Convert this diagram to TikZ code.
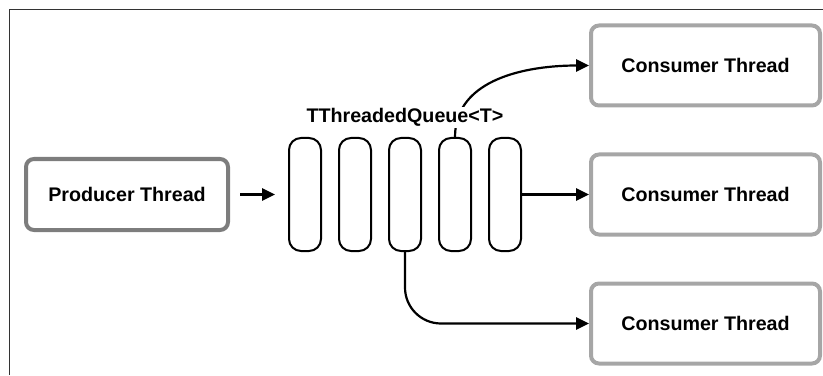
\documentclass[tikz,border=0pt]{standalone}
\usepackage{fontspec}
\setmainfont{Liberation Sans}
\definecolor{ProdGray}{RGB}{125, 125, 125}
\definecolor{ConsGray}{RGB}{166, 166, 166}
\usetikzlibrary{arrows.meta, positioning}

\begin{document}
\begin{tikzpicture}[>={Triangle[length=0.32cm, width=0.3cm]}, node distance=0.4cm,
    every node/.style={font=\fontsize{14}{16}\selectfont\bfseries},
    cellbox/.style={draw, rounded corners=0.3cm, line width=0.05cm, minimum width=0.8cm, minimum height=2.825cm},
    consbox/.style={draw=ConsGray, rounded corners=0.2cm, line width=0.1cm, minimum width=5.725cm, minimum height=2.0cm},
    link/.style={->, line width=0.055cm}]
    \useasboundingbox (0,0) rectangle (20.575,9.375);
    % Frame
    \draw[line width=0.04cm, black!80] (0.2375,0) -- (0.2375,9.1375) -- (20.575,9.1375);
    % Producer
    \node[draw=ProdGray, rounded corners=0.2cm, line width=0.1cm, minimum width=5.05cm, minimum height=1.775cm] (prod) at (3.175,4.5125) {Producer Thread};
    % Queue cells
    \node[cellbox] (q1) at (7.625,4.5125) {};
    \node[cellbox, right=of q1] (q2) {};
    \node[cellbox, right=of q2] (q3) {};
    \node[cellbox, right=of q3] (q4) {};
    \node[cellbox, right=of q4] (q5) {};
    % Consumers
    \node[consbox] (cons1) at (17.6375,7.7375) {Consumer Thread};
    \node[consbox] (cons2) at (17.6375,4.5125) {Consumer Thread};
    \node[consbox] (cons3) at (17.6375,1.2875) {Consumer Thread};
    % Links
    \draw[link, shorten <=0.25cm, shorten >=0.325cm] (prod) -- (q1);
    \draw[link] (q4.north) to[out=90, in=180] (cons1.west);
    \draw[link] (q5.east) -- (cons2.west);
    \draw[link, rounded corners=0.9cm] (q3.south) |- (cons3.west);
    \node[fill=white, inner sep=1pt, above=0.22cm of q3] (qlabel) {TThreadedQueue<T>};
\end{tikzpicture}
\end{document}
